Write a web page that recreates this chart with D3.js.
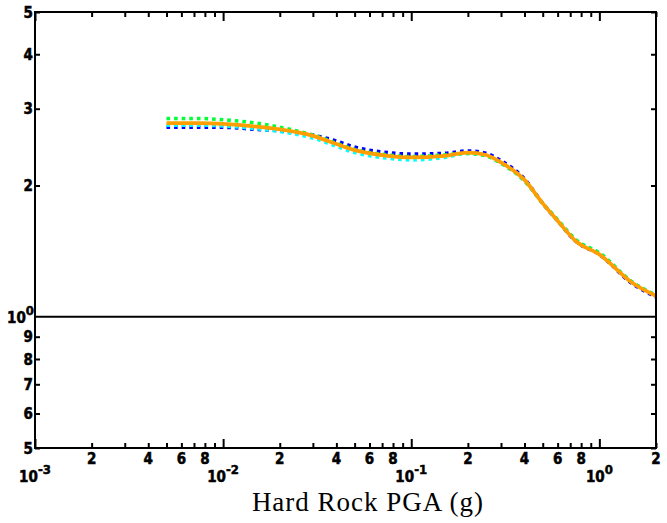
<!DOCTYPE html>
<html>
<head>
<meta charset="utf-8">
<script src="https://cdn.jsdelivr.net/npm/d3@7"></script>
<style>
  html, body { margin: 0; padding: 0; background: #fff; }
  .tick-label { font-family: "Liberation Sans Narrow", "Arial Narrow", "DejaVu Sans Condensed", "Liberation Sans", sans-serif; font-weight: bold; font-size: 15px; fill: #000; stroke: #000; stroke-width: 0.5px; }
  .title { font-family: "Liberation Serif", "Times New Roman", serif; font-size: 27px; letter-spacing: 1px; fill: #000; }
</style>
</head>
<body>
<svg id="chart" width="667" height="523"></svg>
<script>
// Hard-rock PGA (g) sample points
const pga = [0.005, 0.0075, 0.01, 0.015, 0.02, 0.03, 0.04, 0.05, 0.075, 0.1, 0.15, 0.2, 0.25, 0.3, 0.4, 0.5, 0.6, 0.75, 1.0, 1.5, 2.0];

// Amplification curves
const ampBlue  = [2.72, 2.72, 2.72, 2.69, 2.67, 2.61, 2.53, 2.45, 2.38, 2.36, 2.37, 2.40, 2.37, 2.28, 2.07, 1.82, 1.66, 1.49, 1.39, 1.19, 1.11];
const ampCyan  = [2.75, 2.75, 2.74, 2.70, 2.66, 2.57, 2.46, 2.38, 2.31, 2.29, 2.32, 2.37, 2.34, 2.25, 2.05, 1.82, 1.66, 1.50, 1.40, 1.20, 1.12];
const ampGreen = [2.85, 2.85, 2.83, 2.78, 2.72, 2.61, 2.50, 2.42, 2.35, 2.33, 2.35, 2.37, 2.34, 2.25, 2.05, 1.82, 1.67, 1.50, 1.40, 1.20, 1.12];
const ampMean  = [2.78, 2.78, 2.77, 2.73, 2.69, 2.60, 2.49, 2.41, 2.34, 2.32, 2.34, 2.38, 2.35, 2.26, 2.06, 1.82, 1.66, 1.49, 1.39, 1.195, 1.116];

// Axis ticks and labels
const xDomain = [0.001, 2];
const yDomain = [0.5, 5];
const xDecades = [0.001, 0.01, 0.1, 1];
const xDecadeExp = ["-3", "-2", "-1", "0"];
const xMinor = [0.002, 0.003, 0.004, 0.005, 0.006, 0.007, 0.008, 0.009,
                0.02, 0.03, 0.04, 0.05, 0.06, 0.07, 0.08, 0.09,
                0.2, 0.3, 0.4, 0.5, 0.6, 0.7, 0.8, 0.9, 2];
const xMinorLabeled = [0.002, 0.004, 0.006, 0.008, 0.02, 0.04, 0.06, 0.08, 0.2, 0.4, 0.6, 0.8, 2];
const xMinorText    = ["2", "4", "6", "8", "2", "4", "6", "8", "2", "4", "6", "8", "2"];
const yTicks = [0.5, 0.6, 0.7, 0.8, 0.9, 2, 3, 4, 5];
const yTickText = ["5", "6", "7", "8", "9", "2", "3", "4", "5"];
const xTitle = "Hard Rock PGA (g)";

const series = [
  { values: ampBlue,  color: "#0000ff", dotted: true },
  { values: ampCyan,  color: "#00ffff", dotted: true },
  { values: ampGreen, color: "#00ff33", dotted: true },
  { values: ampMean,  color: "#ff9e00", dotted: false }
];

const svg = d3.select("#chart");
const mLeft = 35, mRight = 656, mTop = 12, mBottom = 448;

const x = d3.scaleLog().domain(xDomain).range([mLeft, mRight]);
const y = d3.scaleLog().domain(yDomain).range([mBottom, mTop]);

// curves
const line = d3.line()
  .x((d, i) => x(pga[i]))
  .y(d => y(d))
  .curve(d3.curveMonotoneX);

const plot = svg.append("g");
plot.append("clipPath").attr("id", "clip")
  .append("rect").attr("x", mLeft).attr("y", mTop).attr("width", mRight - mLeft).attr("height", mBottom - mTop);

series.forEach(s => {
  plot.append("path")
    .attr("d", line(s.values))
    .attr("clip-path", "url(#clip)")
    .attr("fill", "none")
    .attr("stroke", s.color)
    .attr("stroke-width", s.dotted ? 3.6 : 3.8)
    .attr("stroke-dasharray", s.dotted ? "3.6,4" : null)
    .attr("stroke-linejoin", "round");
});

// unit reference line
svg.append("line")
  .attr("x1", mLeft).attr("x2", mRight)
  .attr("y1", y(1)).attr("y2", y(1))
  .attr("stroke", "#000").attr("stroke-width", 2);

// axes: ticks pointing inward on all four sides
function styleAxis(g) {
  g.select(".domain").remove();
  g.selectAll(".tick line").attr("stroke", "#000").attr("stroke-width", 2);
  g.selectAll(".tick text").remove();
}
svg.append("g").attr("transform", `translate(0,${mBottom})`)
  .call(d3.axisBottom(x).tickValues(xDecades).tickSize(-9).tickFormat("")).call(styleAxis);
svg.append("g").attr("transform", `translate(0,${mBottom})`)
  .call(d3.axisBottom(x).tickValues(xMinor).tickSize(-5).tickFormat("")).call(styleAxis);
svg.append("g").attr("transform", `translate(0,${mTop})`)
  .call(d3.axisTop(x).tickValues(xDecades).tickSize(-9).tickFormat("")).call(styleAxis);
svg.append("g").attr("transform", `translate(0,${mTop})`)
  .call(d3.axisTop(x).tickValues(xMinor).tickSize(-5).tickFormat("")).call(styleAxis);
svg.append("g").attr("transform", `translate(${mLeft},0)`)
  .call(d3.axisLeft(y).tickValues(yTicks).tickSize(-5).tickFormat("")).call(styleAxis);
svg.append("g").attr("transform", `translate(${mRight},0)`)
  .call(d3.axisRight(y).tickValues(yTicks).tickSize(-5).tickFormat("")).call(styleAxis);

// frame
svg.append("rect")
  .attr("x", mLeft).attr("y", mTop).attr("width", mRight - mLeft).attr("height", mBottom - mTop)
  .attr("fill", "none").attr("stroke", "#000").attr("stroke-width", 2);

// x labels
svg.selectAll(".xminor-label").data(xMinorLabeled).enter().append("text")
  .attr("class", "tick-label")
  .attr("x", d => x(d)).attr("y", 464)
  .attr("text-anchor", "middle")
  .text((d, i) => xMinorText[i]);

xDecades.forEach((d, i) => {
  const t = svg.append("text").attr("class", "tick-label")
    .attr("x", x(d)).attr("y", 482).attr("text-anchor", "middle");
  t.append("tspan").text("10");
  t.append("tspan").attr("dy", -8).attr("font-size", 13).text(xDecadeExp[i]);
});

// y labels
svg.selectAll(".y-label").data(yTicks).enter().append("text")
  .attr("class", "tick-label")
  .attr("x", 33).attr("y", d => y(d) + 5.5)
  .attr("text-anchor", "end")
  .text((d, i) => yTickText[i]);

const yOne = svg.append("text").attr("class", "tick-label")
  .attr("x", 34).attr("y", y(1) + 6).attr("text-anchor", "end");
yOne.append("tspan").text("10");
yOne.append("tspan").attr("dy", -8).attr("font-size", 13).text("0");

// axis title
svg.append("text").attr("class", "title")
  .attr("x", 368).attr("y", 511)
  .attr("text-anchor", "middle")
  .text(xTitle);
</script>
</body>
</html>
